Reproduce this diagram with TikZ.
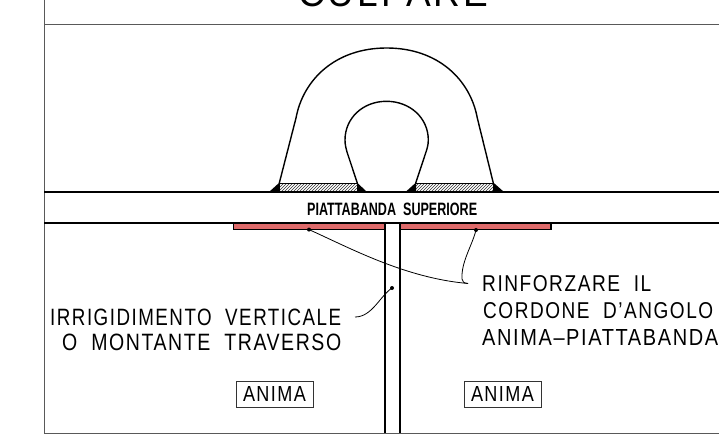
\documentclass[tikz,border=0pt]{standalone}
\usepackage{fontspec}
\usepackage{graphicx}
\setmainfont[LetterSpace=8]{Liberation Sans}
\usetikzlibrary{patterns}
\definecolor{plate}{HTML}{DE6A6A}
\newcommand{\fit}[3]{\resizebox{#1pt}{#2pt}{#3}}
\tikzset{
  x=1pt,y=-1pt,
  frameline/.style={draw=black!65,line width=0.9pt},
  heavy/.style={draw=black,line width=2.2pt},
  outline/.style={draw=black,line width=1.4pt},
  leader/.style={draw=black,line width=0.8pt},
  pin/.style={circle,fill=black,inner sep=0pt,minimum size=4pt},
  lab/.style={inner sep=0pt,anchor=south west},
  tagbox/.style={draw=black!80,line width=0.8pt,minimum width=77pt,minimum height=26pt,inner sep=0pt},
  hatchstrip/.style={pattern=north east lines,pattern color=black!80,draw=black,line width=0.6pt},
  weld/.style={fill=black}
}
\begin{document}
\begin{tikzpicture}
\useasboundingbox (0,0) rectangle (719,446);
\clip (0,0) rectangle (719,446);
% frame
\draw[frameline] (44,-2) -- (44,433) -- (721,433);
\draw[frameline] (44,24.7) -- (721,24.7);
% title
\node[lab] (title) at (298,7) {\fit{190}{27}{CULPARE}};
% hatched strips and welds
\path[hatchstrip] (279.3,183.2) rectangle (357.5,191.5);
\path[hatchstrip] (415.5,183.2) rectangle (493.5,191.5);
\fill[weld] (269,192) -- (279.5,182.5) -- (279.5,192) -- cycle;
\fill[weld] (357,182.5) -- (367,192) -- (357,192) -- cycle;
\fill[weld] (416,182.5) -- (405.5,192) -- (416,192) -- cycle;
\fill[weld] (493.3,182.5) -- (504,192) -- (493.3,192) -- cycle;
% outer and inner loops
\path[outline] (279.3,183) -- (296,118)
  .. controls (303,80) and (335,48) .. (386.65,48)
  .. controls (438.3,48) and (470.3,80) .. (477.3,118) -- (493.3,183);
\path[outline] (357.3,183) -- (347,152)
  .. controls (346,148) and (345,145) .. (345,140)
  .. controls (345,118) and (363,101.3) .. (386.5,101.3)
  .. controls (410,101.3) and (428.3,118) .. (428.3,140)
  .. controls (428.3,145) and (427,149) .. (426,152) -- (415.7,183);
% flange
\draw[heavy] (44,192) -- (721,192);
\draw[heavy] (44,223) -- (721,223);
\node[lab] (flange) at (307,216) {\fit{170}{12.5}{\textbf{\addfontfeature{LetterSpace=0}PIATTABANDA\ \ SUPERIORE}}};
% plates
\path[fill=plate,outline] (233.5,223) rectangle (385,229.5);
\path[fill=plate,outline] (400,223) rectangle (551,229.5);
% web
\draw[outline] (385,223) -- (385,433);
\draw[outline] (400,223) -- (400,433);
% labels
\node[lab] (rinf1) at (482,292) {\fit{169}{16}{RINFORZARE\ \ IL}};
\node[lab] (rinf2) at (483,319) {\fit{230}{16}{CORDONE\ \ D'ANGOLO}};
\node[lab] (rinf3) at (482,345.5) {\fit{236}{16}{ANIMA–PIATTABANDA}};
\node[lab] (irr1) at (50,325.5) {\fit{291}{16.5}{IRRIGIDIMENTO\ \ VERTICALE}};
\node[lab] (irr2) at (62,351) {\fit{279}{16.5}{O\ \ MONTANTE\ \ TRAVERSO}};
\node[tagbox] (an1) at (274.5,394) {\fit{63}{15}{ANIMA}};
\node[tagbox] (an2) at (502.5,394) {\fit{63}{15}{ANIMA}};
% leaders
\node[pin] (d1) at (309,229.6) {};
\node[pin] (d2) at (476,230) {};
\node[pin] (d3) at (392,288) {};
\coordinate (join) at (468,283.5);
\coordinate (kink) at (462,279);
\coordinate (free) at (355,317);
\path[leader] (d1.center) .. controls (350,248) and (405,278) .. (join);
\path[leader] (d2.center) .. controls (472,246) and (461,262) .. (kink) .. controls (462,282) and (464,283) .. (join);
\path[leader] (d3.center) .. controls (380,296) and (372,317) .. (free);
\end{tikzpicture}
\end{document}
